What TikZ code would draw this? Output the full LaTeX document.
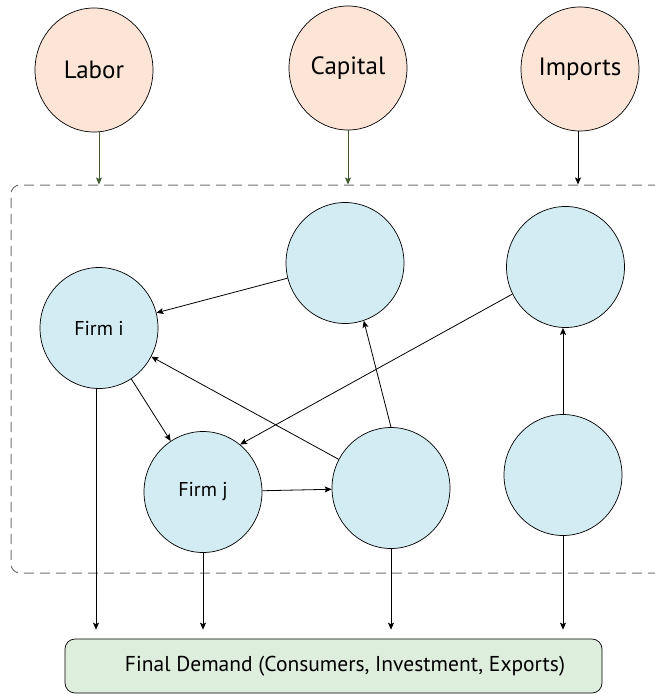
\documentclass[tikz,border=0pt]{standalone}
\usepackage{fontspec}
\setmainfont{PT Sans}
\usetikzlibrary{shapes.geometric,arrows.meta,calc}

\definecolor{factorfill}{HTML}{FCE4D6}
\definecolor{firmfill}{HTML}{D3EBF2}
\definecolor{demandfill}{HTML}{DEEEDD}
\definecolor{inflow}{HTML}{3D5A2C}
\definecolor{groupline}{HTML}{707070}

\tikzset{
  factor/.style={ellipse, draw=black, line width=0.7pt, fill=factorfill,
    minimum width=118pt, minimum height=124pt, inner sep=0pt, font=\fontsize{25}{28}\selectfont},
  firm/.style={ellipse, draw=black, line width=0.7pt, fill=firmfill,
    minimum width=118pt, minimum height=121pt, inner sep=0pt, font=\fontsize{20}{23}\selectfont},
  groupbox/.style={draw=groupline, line width=1pt, dash pattern=on 10pt off 6pt,
    rounded corners=9pt, inner sep=0pt},
  demandbox/.style={draw=black, line width=0.7pt, fill=demandfill, rounded corners=10pt,
    inner sep=0pt, font=\fontsize{21.5}{24}\selectfont},
  arr/.style={line width=0.8pt, -{Stealth[length=7pt,width=6pt,inset=1.5pt]}},
}

\begin{document}
\begin{tikzpicture}[x=1pt,y=-1pt]
  \useasboundingbox (0,0) rectangle (655,694);
  \clip (0,0) rectangle (655,694);

  % group of firms (runs on past the right edge)
  \node[groupbox, minimum width=720pt, minimum height=388pt] (econ) at (371,379) {};

  % primary inputs
  \node[factor] (labor)   at (94,70)  {Labor};
  \node[factor] (capital) at (348,68) {Capital};
  \node[factor] (imports) at (580,69) {Imports};

  % firms
  \node[firm] (c1)    at (345,263)   {};
  \node[firm] (c2)    at (565.5,267) {};
  \node[firm] (firmi) at (99,328)    {Firm i};
  \node[firm] (firmj) at (203,492)   {Firm j};
  \node[firm] (c3)    at (391,488)   {};
  \node[firm] (c4)    at (563,475)   {};

  % final demand
  \node[demandbox, minimum width=537pt, minimum height=54pt] (fd) at (333.5,666)
    {\hspace*{23pt}Final Demand (Consumers, Investment, Exports)};

  % inputs into the production network
  \draw[arr, draw=inflow] ($(labor.south)+(5,0)$) -- ($(labor.south |- econ.north)+(5,0)$);
  \draw[arr, draw=inflow] (capital.south) -- (capital.south |- econ.north);
  \draw[arr] ($(imports.south)+(-2,0)$) -- ($(imports.south |- econ.north)+(-2,0)$);

  % flows between firms
  \draw[arr] (c1) -- (firmi);
  \draw[arr] (firmi) -- (firmj);
  \draw[arr] (c3) -- (firmi);
  \draw[arr] (c2.207) -- (firmj.52);
  \draw[arr] (firmj) -- (c3);
  \draw[arr] (c3.north) -- (c1.288);
  \draw[arr] (c4.north) -- (c4.north |- c2.south);

  % sales to final demand
  \draw[arr, shorten >=9pt] ($(firmi.south)+(-3,0)$) -- ($(firmi.south |- fd.north)+(-3,0)$);
  \draw[arr, shorten >=9pt] (firmj.south) -- (firmj.south |- fd.north);
  \draw[arr, shorten >=9pt] (c3.south) -- (c3.south |- fd.north);
  \draw[arr, shorten >=9pt] (c4.south) -- (c4.south |- fd.north);
\end{tikzpicture}
\end{document}
